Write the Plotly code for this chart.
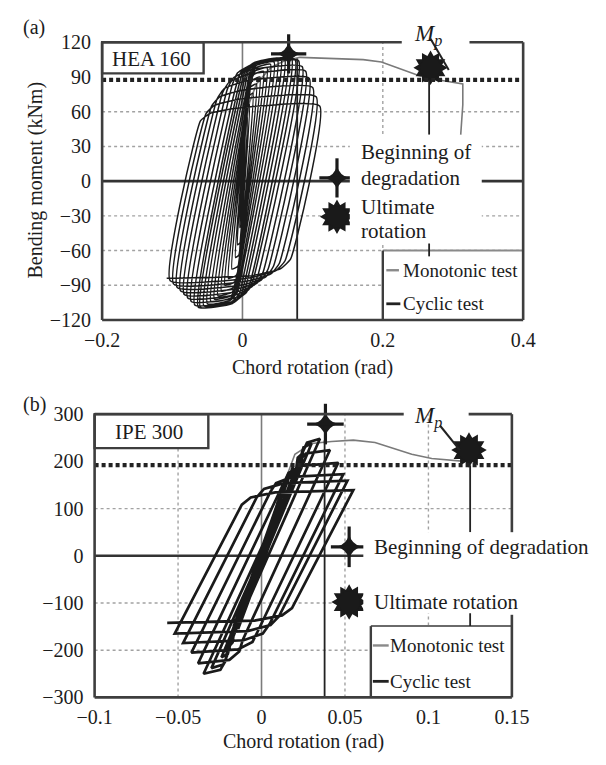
import plotly.graph_objects as go

# ---------------- data: panel (a) HEA 160 ----------------
a_pos_rot = [0.004, 0.007, 0.010, 0.015, 0.020, 0.025, 0.030, 0.035, 0.040, 0.045, 0.050,
             0.055, 0.060, 0.065, 0.070, 0.075, 0.080, 0.085, 0.090, 0.095, 0.100, 0.105, 0.110]
a_pos_mom = [40, 55, 66, 76, 84, 90, 95, 98, 101, 103, 105,
             106, 106, 106, 106, 105, 104, 99, 95, 89, 81, 73, 65]
a_neg_rot = [-0.004, -0.007, -0.010, -0.015, -0.020, -0.025, -0.030, -0.035, -0.040, -0.045, -0.050,
             -0.055, -0.060, -0.063, -0.068, -0.073, -0.078, -0.083, -0.088, -0.093, -0.098, -0.103, -0.108]
a_neg_mom = [-40, -55, -66, -76, -84, -90, -95, -99, -102, -104, -106,
             -108, -109, -109, -107, -104, -101, -98, -95, -92, -89, -86, -84]
a_stiff = [12000, 11000, 9000, 7500, 6200, 5300, 4700, 4300, 4000, 3800, 3600,
           3500, 3400, 3300, 3300, 3200, 3200, 3200, 3200, 3200, 3200, 3200, 3200]
a_mono_rot = [0.0, 0.004, 0.010, 0.020, 0.040, 0.060, 0.082, 0.126, 0.172, 0.198, 0.229,
              0.252, 0.265, 0.283, 0.305, 0.314, 0.314, 0.311]
a_mono_mom = [0, 45, 68, 84, 98, 104, 107, 106, 105, 103, 96, 91, 89, 87, 85, 84, 66, 40]
a_knee = 0.8
a_mp = 87.5
a_degr = (0.0658, 110)
a_ult = (0.268, 98)
a_degr_line_rot = 0.078
a_ult_line_rot = 0.266
a_yticks = [-120, -90, -60, -30, 0, 30, 60, 90, 120]
a_xticks = [-0.2, 0, 0.2, 0.4]

# ---------------- data: panel (b) IPE 300 ----------------
b_pos_rot = [0.003, 0.006, 0.010, 0.014, 0.019, 0.024, 0.030, 0.035, 0.041, 0.046, 0.049, 0.0515, 0.055]
b_pos_mom = [35, 70, 115, 155, 190, 215, 238, 248, 224, 197, 173, 159, 139]
b_neg_rot = [-0.003, -0.006, -0.010, -0.014, -0.019, -0.024, -0.030, -0.0347, -0.038, -0.042, -0.047, -0.052, -0.0565]
b_neg_mom = [-35, -70, -115, -155, -190, -215, -238, -250, -228, -205, -185, -165, -142]
b_stiff = [11000, 11000, 10500, 10000, 9500, 9000, 8500, 8000, 7700, 7400, 7200, 7000, 6800]
b_mono_rot = [0.0, 0.010, 0.020, 0.030, 0.042, 0.055, 0.068, 0.080, 0.090, 0.102, 0.113, 0.121, 0.125]
b_mono_mom = [0, 120, 215, 238, 242, 245, 240, 226, 215, 206, 202, 200, 199]
b_knee = 0.78
b_mp = 192
b_degr = (0.0383, 279)
b_ult = (0.1243, 224)
b_degr_line_rot = 0.0378
b_ult_line_rot = 0.125
b_yticks = [-300, -200, -100, 0, 100, 200, 300]
b_xticks = [-0.1, -0.05, 0, 0.05, 0.1, 0.15]

# ---------------- layout constants ----------------
OFF = 8                      # page body margin of the exported html
W, H = 606 - OFF, 765 - OFF  # figure size
FONT = "Liberation Serif"
INK = "#1c1c1c"
FRAME = "#3e3e3e"
GRID = "#a2a2a2"
A_BOX = dict(l=89, r=537, t=32, b=318)
B_BOX = dict(l=81, r=525, t=415, b=706.7)
A_XR, A_YR = (-0.2, 0.4), (-120, 120)
B_XR, B_YR = (-0.1, 0.15), (-300, 300)


def pxp(x, y):
    return ((x - OFF) / W, 1 - (y - OFF) / H)


def dom(box):
    return [(box['l'] - OFF) / W, (box['r'] - OFF) / W], [1 - (box['b'] - OFF) / H, 1 - (box['t'] - OFF) / H]


def pap(box, xr, yr, x, y):
    px = box['l'] + (x - xr[0]) / (xr[1] - xr[0]) * (box['r'] - box['l'])
    py = box['b'] - (y - yr[0]) / (yr[1] - yr[0]) * (box['b'] - box['t'])
    return pxp(px, py)


def pa(x, y):
    return pap(A_BOX, A_XR, A_YR, x, y)


def pb(x, y):
    return pap(B_BOX, B_XR, B_YR, x, y)


def fmt(v):
    return ('%g' % v).replace('-', '\u2212')


def loop_path(px, pm, nx, nm, ks, kf):
    """Cyclic path through the read peak points; each branch climbs with the
    read stiffness of its cycle up to the knee, then bends to the peak."""
    xs, ys = [0.0], [0.0]
    cur = (0.0, 0.0)
    targets = []
    for i in range(len(px)):
        targets.append((px[i], pm[i], ks[i]))
        targets.append((nx[i], nm[i], ks[i]))
    for tx, ty, k in targets:
        x0, y0 = cur
        ym = kf * ty
        xk = x0 + (ym - y0) / k
        sgn = 1 if tx > x0 else -1
        if (xk - tx) * sgn >= -1e-4:
            xs.append(tx)
            ys.append(ty)
        else:
            d = tx - xk
            xs += [xk, xk + 0.08 * d, xk + 0.3 * d, tx]
            ys += [ym, ym + 0.5 * (ty - ym), ym + 0.85 * (ty - ym), ty]
        cur = (tx, ty)
    return xs, ys


fig = go.Figure()

ax_x, ay_x = loop_path(a_pos_rot, a_pos_mom, a_neg_rot, a_neg_mom, a_stiff, a_knee)
bx_x, by_x = loop_path(b_pos_rot, b_pos_mom, b_neg_rot, b_neg_mom, b_stiff, b_knee)

fig.add_trace(go.Scatter(x=a_mono_rot, y=a_mono_mom, mode='lines', xaxis='x', yaxis='y',
                         line=dict(color='#7a7a7a', width=1.6), hoverinfo='skip'))
fig.add_trace(go.Scatter(x=b_mono_rot, y=b_mono_mom, mode='lines', xaxis='x2', yaxis='y2',
                         line=dict(color='#7a7a7a', width=1.6), hoverinfo='skip'))
fig.add_trace(go.Scatter(x=ax_x, y=ay_x, mode='lines', xaxis='x', yaxis='y',
                         line=dict(color='#1a1a1a', width=1.5, shape='spline', smoothing=0.4),
                         hoverinfo='skip'))
fig.add_trace(go.Scatter(x=bx_x, y=by_x, mode='lines', xaxis='x2', yaxis='y2',
                         line=dict(color='#1a1a1a', width=2.7, shape='linear'),
                         hoverinfo='skip'))


def star(x, y, xa, ya, size=28):
    parts = [('star-diamond', size * 0.62, 0), ('line-ns', size, 3.2), ('line-ew', size * 0.9, 3.2)]
    for sym, sz, lw in parts:
        fig.add_trace(go.Scatter(x=x, y=y, mode='markers', xaxis=xa, yaxis=ya, hoverinfo='skip',
                                 cliponaxis=False,
                                 marker=dict(symbol=sym, size=sz, color='#1a1a1a',
                                             line=dict(width=lw, color='#1a1a1a'))))


def blob(x, y, xa, ya, size=26):
    for sym, ang, sz in [('hexagram', 0, size), ('hexagram', 30, size), ('circle', 0, size * 0.8)]:
        fig.add_trace(go.Scatter(x=x, y=y, mode='markers', xaxis=xa, yaxis=ya, hoverinfo='skip',
                                 cliponaxis=False,
                                 marker=dict(symbol=sym, size=sz, angle=ang, color='#1a1a1a',
                                             line=dict(width=0))))


star([a_degr[0], 0.1347], [a_degr[1], 2.8], 'x', 'y', 28)
blob([a_ult[0], 0.1347], [a_ult[1], -30.8], 'x', 'y', 26)
star([b_degr[0], 0.0525], [b_degr[1], 19], 'x2', 'y2', 29)
blob([b_ult[0], 0.0525], [b_ult[1], -98], 'x2', 'y2', 27)

shapes = []


def dline(xref, yref, x0, y0, x1, y1, color, width, dash=None, layer='above'):
    d = dict(type='line', xref=xref, yref=yref, x0=x0, y0=y0, x1=x1, y1=y1, layer=layer,
             line=dict(color=color, width=width))
    if dash:
        d['line']['dash'] = dash
    shapes.append(d)


def pline(p0, p1, color, width, dash=None, layer='above'):
    dline('paper', 'paper', p0[0], p0[1], p1[0], p1[1], color, width, dash, layer)


def prect(p0, p1, fill='white', color=None, width=0):
    shapes.append(dict(type='rect', xref='paper', yref='paper', x0=p0[0], y0=p0[1], x1=p1[0], y1=p1[1],
                       fillcolor=fill, layer='above',
                       line=dict(color=color or 'rgba(0,0,0,0)', width=width)))


# ---- grid (below traces)
for v in [60, 30, -30, -60, -90]:
    dline('x', 'y', A_XR[0], v, A_XR[1], v, GRID, 1.4, 'dot', 'below')
dline('x', 'y', 0.2, A_YR[0], 0.2, A_YR[1], GRID, 1.4, 'dot', 'below')
dline('x', 'y', 0, A_YR[0], 0, A_YR[1], '#7c7c7c', 1.6, None, 'below')
dline('x', 'y', A_XR[0], 0, A_XR[1], 0, '#333333', 2.6, None, 'below')
for v in [100, -100, -200]:
    dline('x2', 'y2', B_XR[0], v, B_XR[1], v, GRID, 1.4, 'dot', 'below')
for v in [-0.05, 0.05, 0.1]:
    dline('x2', 'y2', v, B_YR[0], v, B_YR[1], GRID, 1.4, 'dot', 'below')
dline('x2', 'y2', 0, B_YR[0], 0, B_YR[1], '#7c7c7c', 1.6, None, 'below')
dline('x2', 'y2', B_XR[0], 0, B_XR[1], 0, '#333333', 2.6, None, 'below')

# ---- Mp dotted lines
dline('x', 'y', A_XR[0], a_mp, A_XR[1], a_mp, '#222222', 4.2, '4px,3px')
dline('x2', 'y2', B_XR[0], b_mp, B_XR[1], b_mp, '#222222', 4.2, '4px,3px')

# ---- degradation & ultimate verticals
dline('x', 'y', a_degr_line_rot, 106, a_degr_line_rot, A_YR[0], '#222222', 1.8)
dline('x', 'y', a_ult_line_rot, a_mp, a_ult_line_rot, 40, '#222222', 1.8)
dline('x2', 'y2', b_degr_line_rot, 245, b_degr_line_rot, B_YR[0], '#222222', 1.8)
dline('x2', 'y2', b_ult_line_rot, b_mp, b_ult_line_rot, 50, '#222222', 1.8)

# ---- white masks behind the marker texts
prect(pa(0.153, -54), pa(0.341, 40))
prect(pb(0.061, -122), (1.0, pb(0, 50)[1]))

# ---- legend boxes
prect(pa(0.2, -120), pa(0.4, -60))
pline(pa(0.2, -60), pa(0.4, -60), '#8a8a8a', 2)
pline(pa(0.2, -60), pa(0.2, -120), FRAME, 2.4)
pline(pa(0.205, -77), pa(0.223, -77), '#8a8a8a', 2.4)
pline(pa(0.205, -106), pa(0.225, -106), '#222222', 2.8)
dline('x', 'y', a_ult_line_rot, -54, a_ult_line_rot, -65, '#222222', 1.8)

prect(pb(0.0655, -300), pb(0.15, -149))
pline(pb(0.0655, -149), pb(0.15, -149), '#6a6a6a', 2)
pline(pb(0.0655, -149), pb(0.0655, -300), FRAME, 2.4)
pline(pb(0.0667, -190), pb(0.0762, -190), '#8a8a8a', 2.4)
pline(pb(0.0667, -266), pb(0.0762, -266), '#222222', 2.8)
dline('x2', 'y2', b_ult_line_rot, -122, b_ult_line_rot, -149, '#222222', 1.8)

# ---- name boxes
prect(pxp(A_BOX['l'], 64), pxp(197, A_BOX['t']), 'white', FRAME, 2.4)
prect(pxp(B_BOX['l'], 450), pxp(202, B_BOX['t']), 'white', FRAME, 2.4)

# ---- frames
(axd, ayd), (bxd, byd) = dom(A_BOX), dom(B_BOX)
FW = 2.6
pline((axd[0], ayd[0]), (axd[0], ayd[1]), FRAME, FW)
pline((axd[0], ayd[0]), (axd[1], ayd[0]), FRAME, FW)
pline((axd[1], ayd[0]), (axd[1], ayd[1]), FRAME, FW)
pline((axd[0], ayd[1]), (pa(0.227, 0)[0], ayd[1]), FRAME, FW)
pline((pa(0.3235, 0)[0], ayd[1]), (axd[1], ayd[1]), FRAME, FW)
pline((bxd[0], byd[0]), (bxd[0], byd[1]), FRAME, FW)
pline((bxd[0], byd[0]), (bxd[1], byd[0]), FRAME, FW)
pline((bxd[1], byd[1]), (bxd[1], pb(0, 50)[1]), FRAME, FW)
pline((bxd[1], pb(0, -125)[1]), (bxd[1], byd[0]), FRAME, FW)
pline((bxd[0], byd[1]), (pb(0.0852, 0)[0], byd[1]), FRAME, FW)
pline((pb(0.1241, 0)[0], byd[1]), (bxd[1], byd[1]), FRAME, FW)

# ---- Mp pointer lines
pline(pa(0.268, 123), pa(0.294, 96), '#222222', 2)
pline(pb(0.1069, 276), pb(0.1188, 224), '#222222', 2)

annotations = []


def txt(p, text, size, xanchor='center', angle=0):
    annotations.append(dict(x=p[0], y=p[1], xref='paper', yref='paper', text=text, showarrow=False,
                            xanchor=xanchor, yanchor='middle', textangle=angle, borderpad=0,
                            font=dict(family=FONT, size=size, color=INK)))


txt(pxp(17, 17), '(a)', 20)
txt(pxp(17, 405), '(b)', 20)
txt(pxp(142, 49), 'HEA 160', 21)
txt(pxp(139, 433), 'IPE 300', 21)
txt(pxp(436, 25), '<i>M</i><sub><i>p</i></sub>', 23)
txt(pxp(436, 418), '<i>M</i><sub><i>p</i></sub>', 23)
txt(pxp(18, 174), 'Bending moment (kNm)', 20, angle=-90)
txt(pxp(313, 367), 'Chord rotation (rad)', 20)
txt(pxp(303, 752), 'Chord rotation (rad)', 20)

txt(pa(0.168, 25), 'Beginning of', 21, 'left')
txt(pa(0.168, 2.8), 'degradation', 21, 'left')
txt(pa(0.168, -22), 'Ultimate', 21, 'left')
txt(pa(0.168, -43), 'rotation', 21, 'left')
txt(pa(0.228, -77), 'Monotonic test', 19, 'left')
txt(pa(0.228, -106), 'Cyclic test', 19, 'left')

txt(pb(0.0670, 19), 'Beginning of degradation', 21, 'left')
txt(pb(0.0670, -98), 'Ultimate rotation', 21, 'left')
txt(pb(0.0765, -190), 'Monotonic test', 19, 'left')
txt(pb(0.0765, -266), 'Cyclic test', 19, 'left')

tickfont = dict(family=FONT, size=20, color=INK)
common = dict(showgrid=False, zeroline=False, showline=False, ticks='outside',
              tickcolor='rgba(0,0,0,0)', tickfont=tickfont, fixedrange=True, tickmode='array')

fig.update_layout(
    width=W, height=H, margin=dict(l=0, r=0, t=0, b=0),
    paper_bgcolor='white', plot_bgcolor='white', showlegend=False,
    xaxis=dict(domain=axd, range=[A_XR[0] - 1e-9, A_XR[1] + 1e-9], anchor='y', tickvals=a_xticks,
               ticktext=[fmt(v) for v in a_xticks], ticklen=2, **common),
    yaxis=dict(domain=ayd, range=[A_YR[0] - 1e-6, A_YR[1] + 1e-6], anchor='x', tickvals=a_yticks,
               ticktext=[fmt(v) for v in a_yticks], ticklen=6, **common),
    xaxis2=dict(domain=bxd, range=[B_XR[0] - 1e-9, B_XR[1] + 1e-9], anchor='y2', tickvals=b_xticks,
                ticktext=[fmt(v) for v in b_xticks], ticklen=2, **common),
    yaxis2=dict(domain=byd, range=[B_YR[0] - 1e-6, B_YR[1] + 1e-6], anchor='x2', tickvals=b_yticks,
                ticktext=[fmt(v) for v in b_yticks], ticklen=6, **common),
    shapes=shapes, annotations=annotations,
)

fig.write_html("out.html")
